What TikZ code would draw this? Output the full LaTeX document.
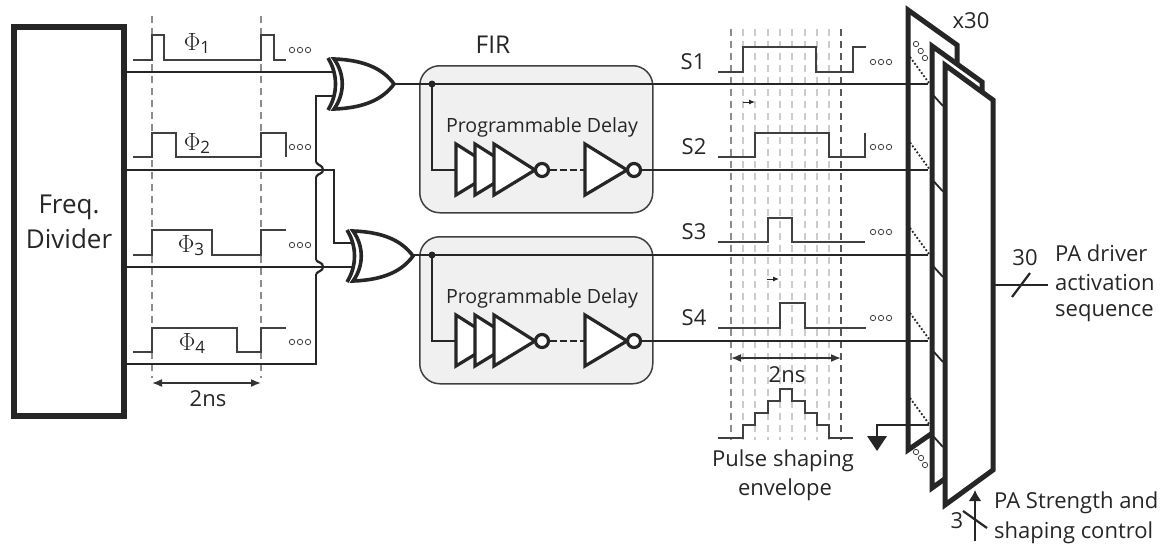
\documentclass[tikz,border=0pt]{standalone}
\usepackage{fontspec}
\usetikzlibrary{arrows.meta}
\setmainfont{Open Sans}
\tikzset{
	wire/.style={line width=2.2pt, black!85},
	pulse/.style={line width=1.6pt, black!75},
	panel/.style={line width=5pt, black!85, fill=white, miter limit=6},
	inv/.style={line width=3.2pt, black!85, fill=white, line join=miter},
	bub/.style={circle, draw=black!85, line width=3.2pt, fill=white, minimum size=13pt, inner sep=0pt},
	firbox/.style={draw=black!75, line width=1.5pt, fill=black!6, rounded corners=20pt},
	gridline/.style={black!20, line width=1.3pt, dash pattern=on 7pt off 5pt},
	mainline/.style={black!45, line width=1.3pt, dash pattern=on 7pt off 5pt},
	more/.style={circle, draw=black!75, line width=.8pt, minimum size=5.4pt, inner sep=0pt},
	lbl/.style={text=black!85, font=\fontsize{22}{26}\selectfont, inner sep=0pt},
	span/.style={{Latex[length=10pt,width=8pt]}-{Latex[length=10pt,width=8pt]}, line width=1.6pt, black!80},
}
\newcommand{\threedots}[2]{%
	\node[more] at (#1,#2) {};
	\node[more] at (#1+8,#2) {};
	\node[more] at (#1+16,#2) {};
}
\newcommand{\phase}[1]{{\fontsize{30}{30}\selectfont$\Phi$}{\fontsize{17}{17}\selectfont\raisebox{-3pt}{#1}}}
% one xor gate, (0,0) is the tip
\newcommand{\xorgate}[2]{%
	\begin{scope}[shift={(#1,#2)}]
		\draw[line width=3.6pt, black!85, fill=white, line join=miter] (-60,-25) .. controls (-28,-24) and (-10,-14) .. (0,0)
			.. controls (-10,14) and (-28,24) .. (-60,25) .. controls (-49,10) and (-49,-10) .. (-60,-25) -- cycle;
		\draw[line width=3.6pt, black!85] (-66,-26) .. controls (-56,-10) and (-56,10) .. (-66,26);
	\end{scope}
}
% one fir block, (0,0) is the upper left corner of the box
\newcommand{\firblock}[3]{%
	\node[firbox, minimum width=233pt, minimum height=147pt, anchor=north west, inner sep=0pt] (#3) at (#1,#2) {};
	\begin{scope}[shift={(#1,#2)}]
		\fill[black!85] (13,19) circle (3.5pt);
		\node[lbl, font=\fontsize{19.6}{22}\selectfont] (#3txt) at (123,62) {Programmable Delay};
		\draw[inv] (37,79) -- (78,105) -- (37,130) -- cycle;
		\draw[inv] (56,79) -- (97,105) -- (56,130) -- cycle;
		\draw[inv] (75,79) -- (116,105) -- (75,130) -- cycle;
		\node[bub] (#3a) at (123,105) {};
		\draw[inv] (166,79) -- (208,105) -- (166,130) -- cycle;
		\node[bub] (#3b) at (215,105) {};
		\coordinate (#3in) at (37,105);
		\coordinate (#3d) at (166,105);
		\coordinate (#3j) at (13,19);
	\end{scope}
	\draw[wire] (#3j) |- (#3in);
	\draw[wire, dash pattern=on 7pt off 3pt] (#3a) -- (#3d);
}
\begin{document}
\begin{tikzpicture}[x=1pt, y=-1pt]
	\useasboundingbox (0,0) rectangle (1162,546);

	% clock lines
	\draw[mainline] (152,16) -- (152,378);
	\draw[mainline] (261,16) -- (261,378);
	\foreach \xg in {743,755,768,780,792,805,817,829}
		\draw[gridline] (\xg,29) -- (\xg,440);
	\draw[mainline] (731,29) -- (731,440);
	\draw[mainline, black!65] (841,29) -- (841,440);

	% fir
	\firblock{419}{65}{firA}
	\firblock{419}{236}{firB}
	\node[lbl, font=\fontsize{24.5}{28}\selectfont] (firtxt) at (493,45) {FIR};

	% phases
	\draw[pulse] (133,60) -| (152,35) -| (164,60) -| (261,35) -| (274,60) -- (286,60);
	\draw[pulse] (133,157) -| (152,133) -| (176,157) -| (261,133) -| (286,157);
	\draw[pulse] (133,255) -| (152,230) -| (212,255) -| (261,230) -- (286,230);
	\draw[pulse] (133,352) -| (152,328) -| (237,352) -| (261,328) -- (286,328);
	\node[lbl] (ph1) at (197,44) {\phase{1}};
	\node[lbl] (ph2) at (197,143) {\phase{2}};
	\node[lbl] (ph3) at (191,246) {\phase{3}};
	\node[lbl] (ph4) at (192,343) {\phase{4}};
	\threedots{292}{50}
	\threedots{292}{147}
	\threedots{292}{245}
	\threedots{292}{342}
	\draw[span] (152,383) -- (261,383);
	\node[lbl] (tA) at (208,399) {2ns};

	% divider
	\node[draw=black!85, line width=6pt, fill=white, minimum width=110pt, minimum height=389pt, anchor=north west, inner sep=0pt, align=center, font=\fontsize{26}{35}\selectfont, text=black!85] (div) at (11,24) {Freq.\\Divider};

	% panels
	\draw[panel] (957,64) -- (957,45) -- (908,10) -- (908,450) -- (931,434);
	\draw[panel] (982,92) -- (982,82) -- (932,46) -- (932,488) -- (946,478);
	\draw[panel] (945,65) -- (993,100) -- (993,470) -- (945,505) -- cycle;

	% gates and wires
	\draw[wire] (124,72) -- (333,72);
	\draw[wire] (333,96) -- (316,96) -- (316,162);
	\draw[wire] (316,177) -- (316,260);
	\draw[wire] (316,274) -- (316,364) -- (124,364);
	\draw[wire] (124,170) -- (334,170) -- (334,243) -- (352,243);
	\draw[wire] (124,267) -- (352,267);
	\draw[wire] (316,162) .. controls (318,166) and (323,165) .. (323,170) .. controls (323,174) and (318,173) .. (316,177);
	\draw[wire] (316,260) .. controls (318,263) and (323,262) .. (323,267) .. controls (323,271) and (318,271) .. (316,274);
	\xorgate{394}{84}
	\xorgate{413}{256}

	\draw[wire] (394,84) -- (928,84);
	\draw[wire] (413,255) -- (928,255);
	\draw[wire] (firAb) -- (928,170);
	\draw[wire] (firBb) -- (928,341);

	% s pulses
	\draw[pulse] (718,72) -| (743,47) -| (816,72) -| (853,47) -- (866,47);
	\draw[pulse] (718,157) -| (755,133) -| (829,157) -| (865,133);
	\draw[pulse] (718,242) -| (768,218) -| (792,242) -- (865,242);
	\draw[pulse] (718,328) -| (780,303) -| (805,328) -- (866,328);
	\node[lbl] (s1) at (693,62) {S1};
	\node[lbl] (s2) at (694,147) {S2};
	\node[lbl] (s3) at (694,232) {S3};
	\node[lbl] (s4) at (694,318) {S4};
	\threedots{873}{62}
	\threedots{873}{147}
	\threedots{873}{232}
	\threedots{873}{318}
	\draw[-{Latex[length=6pt,width=5pt]}, line width=1pt, black!85] (743,102) -- (755,102);
	\draw[-{Latex[length=6pt,width=5pt]}, line width=1pt, black!85] (767,279) -- (779,279);
	\draw[span] (731,358) -- (841,358);
	\node[lbl] (tB) at (787,375) {2ns};
	\draw[pulse] (718,438) -| (743,425) -| (755,413) -| (768,401) -| (780,389) -| (792,401) -| (805,413) -| (817,425) -| (829,438) -- (853,438);
	\node[lbl] (envA) at (783,461) {Pulse shaping};
	\node[lbl] (envB) at (785,490) {envelope};

	% rows on the panels
	\foreach \ya in {57,142.5,228,313,398} {
		\draw[line width=1.8pt, black!85, dotted] (910,\ya) -- ++(19,26);
		\draw[line width=1.8pt, black!85] (933,\ya+38) -- ++(10,11);
	}
	\foreach \xc/\yc in {916/44,920.7/51,925/58,916/452,921/458,925/465}
		\node[more] at (\xc,\yc) {};

	% ground
	\coordinate (gnd) at (877,437);
	\draw[wire] (929,425) -| (gnd);
	\fill[black!85] (867,436) -- (887,436) -- (877,451) -- cycle;

	% right side
	\node[lbl] (xn) at (971,21) {x30};
	\coordinate (out) at (1048,285);
	\draw[wire] (993,285) -- (out);
	\draw[wire] (1012,297) -- (1030,273);
	\node[lbl] (n30) at (1025,258) {30};
	\node[lbl, anchor=west] (paA) at (1055,253) {PA driver};
	\node[lbl, anchor=west] (paB) at (1055,283) {activation};
	\node[lbl, anchor=west] (paC) at (1055,313) {sequence};
	\coordinate (ctl) at (975,541);
	\draw[line width=2pt, black!85, -{Latex[length=11pt,width=13pt]}] (ctl) -- (975,490);
	\draw[wire] (963,511) -- (987,528);
	\node[lbl] (n3) at (957,521) {3};
	\node[lbl, anchor=west] (paD) at (994,503) {PA Strength and};
	\node[lbl, anchor=west] (paE) at (994,533) {shaping control};
\end{tikzpicture}
\end{document}
